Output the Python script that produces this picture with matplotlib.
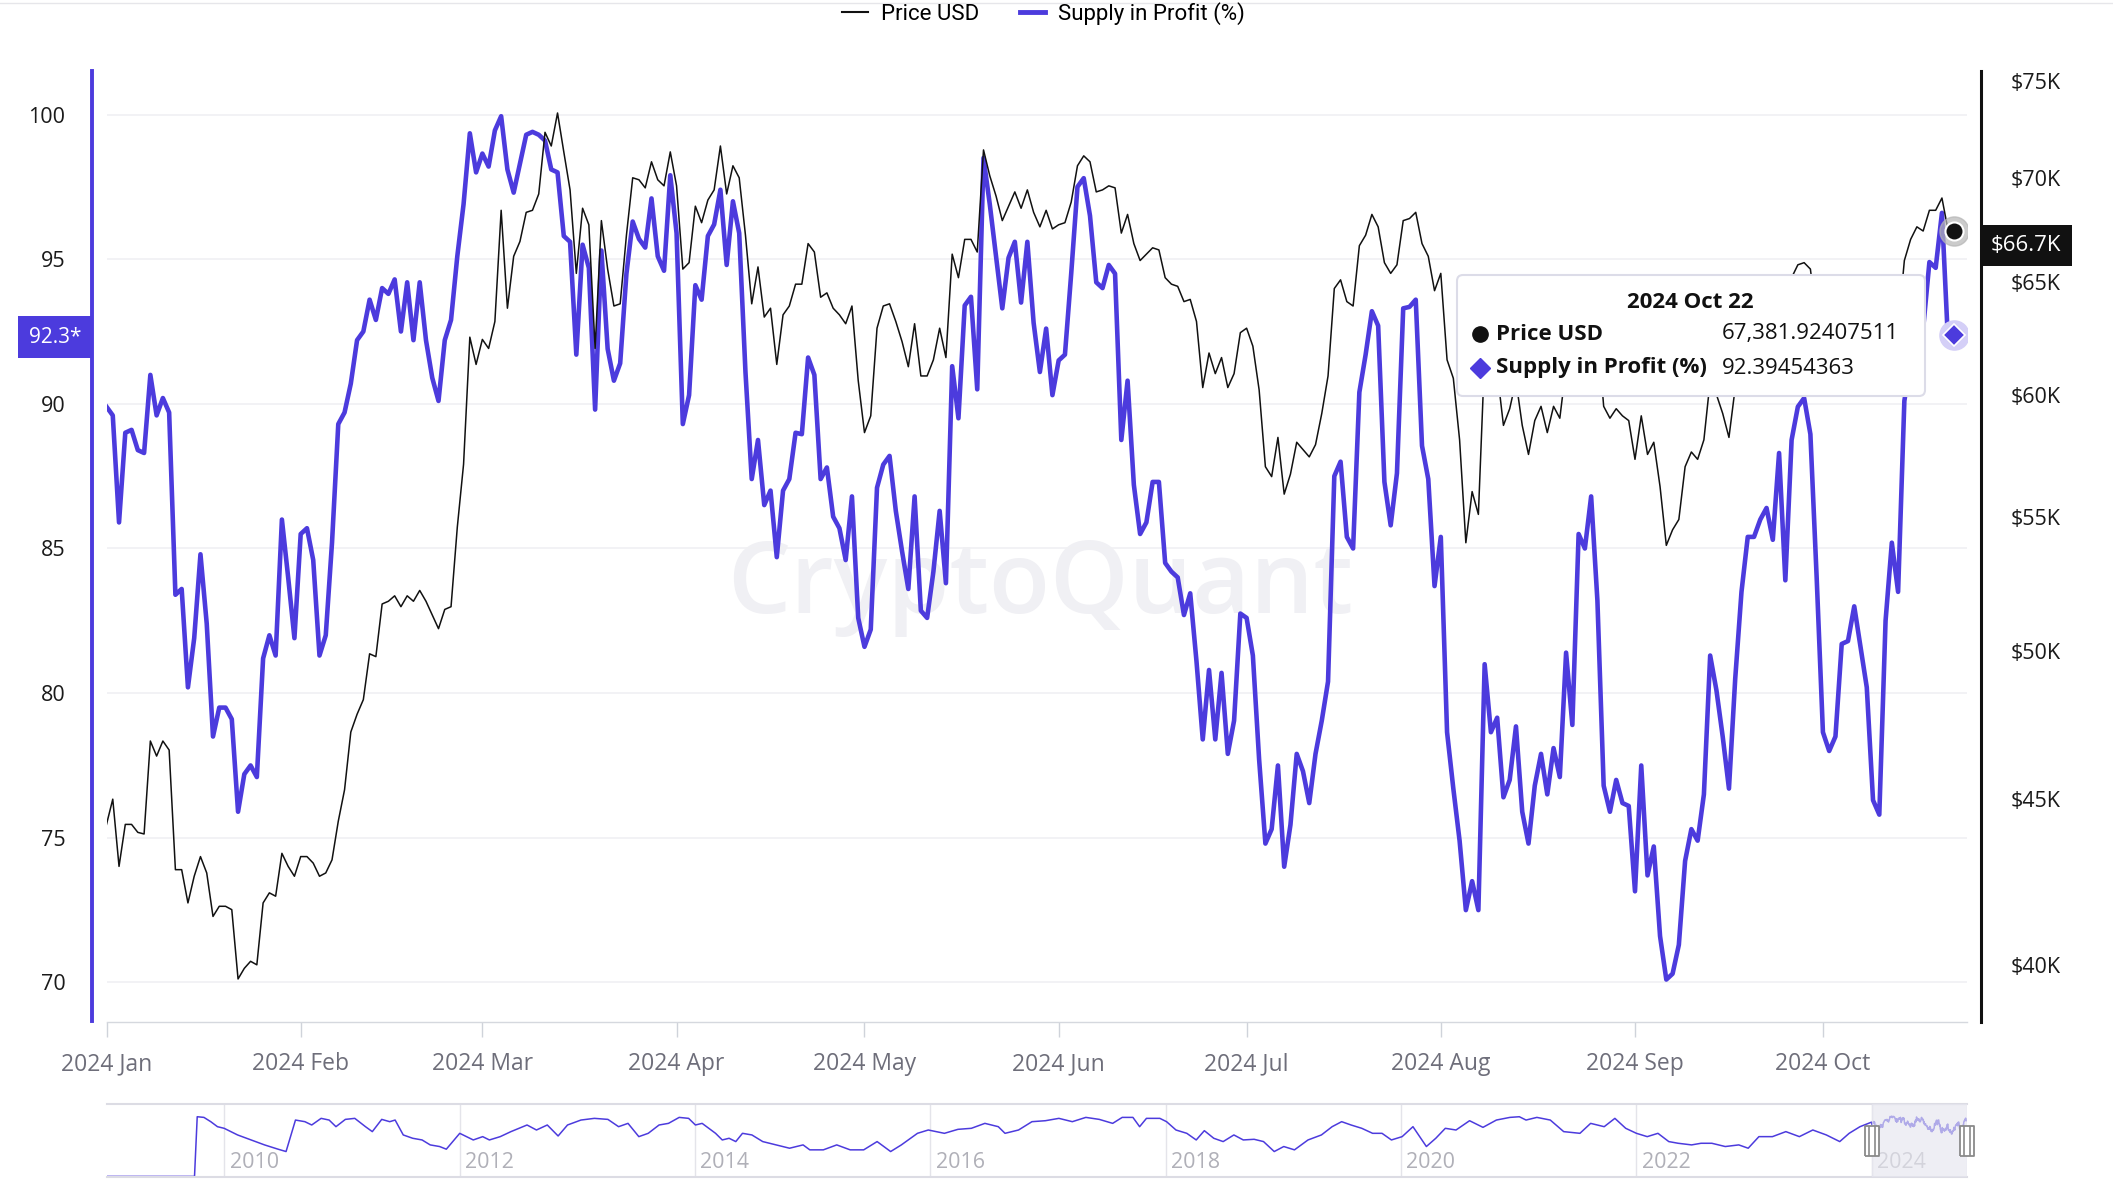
import numpy as np
import pandas as pd
import matplotlib
matplotlib.use("Agg")
import matplotlib.pyplot as plt
import matplotlib.dates as mdates
import matplotlib.ticker as mticker
import matplotlib.transforms as mtransforms
from matplotlib.lines import Line2D
from matplotlib.patches import FancyBboxPatch
from matplotlib.path import Path

plt.rcParams['font.family'] = ['Open Sans', 'DejaVu Sans']

PURPLE = "#4c3bdd"
BLACK = "#111111"

# BTC price in thousand USD, daily from 2024-01-01 to 2024-10-22
price_k = [
    44.2, 45.0, 42.9, 44.2, 44.2, 43.95, 43.9, 46.9, 46.4, 46.9, 46.6, 42.8, 42.8, 41.8, 42.6, 43.2,
    42.7, 41.4, 41.7, 41.7, 41.6, 39.6, 39.9, 40.1, 40.0, 41.8, 42.1, 42.0, 43.3, 42.9, 42.6,  # Jan
    43.2, 43.2, 43.0, 42.6, 42.7, 43.1, 44.3, 45.3, 47.2, 47.8, 48.3, 49.9, 49.8, 51.7, 51.8,
    52.0, 51.6, 52.0, 51.8, 52.2, 51.8, 51.3, 50.8, 51.5, 51.6, 54.6, 57.1, 62.5, 61.3,  # Feb
    62.4, 62.0, 63.2, 68.4, 63.8, 66.2, 66.9, 68.3, 68.4, 69.2, 72.3, 71.6, 73.3, 71.3, 69.4, 65.4,
    68.5, 67.7, 62.0, 67.9, 65.6, 63.9, 64.0, 67.2, 70.0, 69.9, 69.5, 70.8, 69.9, 69.6, 71.3,  # Mar
    69.6, 65.6, 65.9, 68.6, 67.8, 68.9, 69.4, 71.6, 69.2, 70.6, 70.0, 67.2, 64.0, 65.7, 63.4,
    63.8, 61.3, 63.5, 63.9, 64.9, 64.9, 66.8, 66.4, 64.3, 64.5, 63.8, 63.5, 63.1, 63.9, 60.6,  # Apr
    58.4, 59.1, 62.9, 63.9, 64.0, 63.2, 62.3, 61.2, 63.1, 60.8, 60.8, 61.5, 62.9, 61.6, 66.3, 65.2,
    67.0, 67.0, 66.4, 71.4, 70.1, 69.1, 67.9, 68.6, 69.3, 68.5, 69.4, 68.3, 67.6, 68.4, 67.5,  # May
    67.7, 67.8, 68.8, 70.6, 71.1, 70.8, 69.3, 69.4, 69.6, 69.5, 67.3, 68.2, 66.8, 66.0, 66.3,
    66.6, 66.5, 65.2, 64.9, 64.8, 64.1, 64.2, 63.2, 60.3, 61.8, 60.9, 61.6, 60.3, 60.9, 62.7,  # Jun
    62.9, 62.1, 60.2, 57.0, 56.6, 58.2, 55.9, 56.7, 58.0, 57.7, 57.4, 57.9, 59.2, 60.8, 64.7, 65.1,
    64.1, 63.9, 66.7, 67.2, 68.2, 67.6, 65.9, 65.4, 65.8, 67.9, 68.0, 68.3, 66.8, 66.2, 64.6,  # Jul
    65.4, 61.5, 60.7, 58.1, 54.0, 56.0, 55.1, 61.7, 60.9, 61.0, 58.7, 59.4, 60.6, 58.7, 57.5, 58.9,
    59.5, 58.4, 59.5, 59.0, 61.2, 60.4, 64.1, 64.2, 64.2, 62.9, 59.5, 59.0, 59.4, 59.1, 58.9,  # Aug
    57.3, 59.1, 57.5, 58.0, 56.2, 53.9, 54.5, 54.9, 57.0, 57.6, 57.3, 58.1, 60.6, 60.0, 59.2,
    58.2, 60.3, 61.8, 62.9, 63.2, 63.3, 63.6, 63.3, 64.3, 63.1, 65.2, 65.8, 65.9, 65.6, 63.3,  # Sep
    60.8, 60.6, 60.8, 62.1, 62.1, 62.8, 62.2, 62.1, 60.6, 60.3, 62.5, 63.2, 62.9, 66.0, 67.0,
    67.6, 67.4, 68.4, 68.4, 69.0, 67.4, 67.38192407511,  # Oct
]

# Supply in Profit (%), same days
supply_pct = [
    89.9, 89.6, 85.9, 89.0, 89.1, 88.4, 88.3, 91.0, 89.6, 90.2, 89.7, 83.4, 83.6, 80.2, 81.9, 84.8,
    82.4, 78.5, 79.5, 79.5, 79.1, 75.9, 77.2, 77.5, 77.1, 81.2, 82.0, 81.3, 86.0, 84.0, 81.9,  # Jan
    85.5, 85.7, 84.6, 81.3, 82.0, 85.2, 89.3, 89.7, 90.7, 92.2, 92.5, 93.6, 92.9, 94.0, 93.8,
    94.3, 92.5, 94.2, 92.2, 94.2, 92.2, 90.9, 90.1, 92.2, 92.9, 95.1, 96.9, 99.35, 98.0,  # Feb
    98.65, 98.2, 99.45, 99.94, 98.1, 97.3, 98.3, 99.3, 99.4, 99.3, 99.1, 98.1, 98.0, 95.8, 95.6, 91.7,
    95.5, 94.7, 89.8, 95.3, 91.9, 90.8, 91.4, 94.5, 96.3, 95.7, 95.4, 97.1, 95.1, 94.6, 97.9,  # Mar
    95.9, 89.3, 90.3, 94.1, 93.6, 95.8, 96.2, 97.4, 94.8, 97.0, 95.9, 91.1, 87.4, 88.75, 86.5,
    87.0, 84.7, 87.0, 87.4, 89.0, 88.95, 91.6, 91.0, 87.4, 87.8, 86.1, 85.7, 84.6, 86.8, 82.6,  # Apr
    81.6, 82.2, 87.1, 87.9, 88.2, 86.3, 84.9, 83.6, 86.8, 82.85, 82.6, 84.2, 86.3, 83.8, 91.3, 89.5,
    93.4, 93.7, 90.5, 98.5, 96.9, 95.1, 93.3, 95.05, 95.6, 93.5, 95.6, 92.8, 91.1, 92.6, 90.3,  # May
    91.5, 91.7, 94.5, 97.5, 97.8, 96.5, 94.2, 94.0, 94.8, 94.5, 88.75, 90.8, 87.2, 85.5, 85.9,
    87.3, 87.3, 84.5, 84.2, 84.0, 82.7, 83.45, 81.1, 78.4, 80.8, 78.4, 80.7, 77.9, 79.05, 82.75,  # Jun
    82.6, 81.3, 77.7, 74.8, 75.3, 77.5, 74.0, 75.45, 77.9, 77.3, 76.2, 77.9, 79.05, 80.4, 87.5, 88.0,
    85.4, 85.0, 90.4, 91.7, 93.2, 92.7, 87.3, 85.8, 87.6, 93.3, 93.35, 93.6, 88.55, 87.4, 83.7,  # Jul
    85.4, 78.65, 76.7, 74.9, 72.5, 73.5, 72.5, 81.0, 78.65, 79.15, 76.4, 77.0, 78.85, 75.9, 74.8, 76.8,
    77.9, 76.5, 78.1, 77.1, 81.4, 78.9, 85.5, 85.0, 86.8, 83.2, 76.8, 75.9, 77.0, 76.2, 76.1,  # Aug
    73.15, 77.5, 73.7, 74.7, 71.6, 70.1, 70.3, 71.3, 74.2, 75.3, 74.9, 76.5, 81.3, 80.1, 78.5,
    76.7, 80.5, 83.5, 85.4, 85.4, 86.0, 86.4, 85.3, 88.3, 83.9, 88.75, 89.9, 90.2, 88.95, 84.0,  # Sep
    78.65, 78.0, 78.5, 81.7, 81.8, 83.0, 81.6, 80.2, 76.3, 75.8, 82.5, 85.2, 83.5, 90.1, 91.5,
    92.8, 92.6, 94.9, 94.7, 96.6, 92.0, 92.39454363,  # Oct
]

# navigator: full history of Supply in Profit (%), read coarsely (decimal year, value)
nav_year = [2009.0, 2009.748, 2009.771, 2009.828, 2009.886, 2009.943, 2010.0, 2010.114, 2010.229,
            2010.343, 2010.458, 2010.526, 2010.606, 2010.686, 2010.744, 2010.824, 2010.892, 2010.95,
            2011.03, 2011.11, 2011.201, 2011.259, 2011.339, 2011.407, 2011.453, 2011.522, 2011.602,
            2011.682, 2011.751, 2011.831, 2011.888, 2012.002, 2012.117, 2012.197, 2012.254, 2012.346,
            2012.437, 2012.574, 2012.654, 2012.746, 2012.838, 2012.918, 2013.032, 2013.146, 2013.261,
            2013.352, 2013.432, 2013.524, 2013.604, 2013.696, 2013.776, 2013.867, 2013.947, 2014.005,
            2014.062, 2014.176, 2014.233, 2014.291, 2014.348, 2014.405, 2014.485, 2014.577, 2014.691,
            2014.805, 2014.92, 2014.977, 2015.092, 2015.206, 2015.32, 2015.435, 2015.549, 2015.664,
            2015.755, 2015.892, 2015.984, 2016.121, 2016.236, 2016.35, 2016.465, 2016.579, 2016.636,
            2016.751, 2016.865, 2016.979, 2017.094, 2017.208, 2017.323, 2017.437, 2017.551, 2017.632,
            2017.723, 2017.78, 2017.838, 2017.952, 2018.009, 2018.089, 2018.181, 2018.261, 2018.33,
            2018.41, 2018.49, 2018.581, 2018.661, 2018.753, 2018.833, 2018.924, 2019.005, 2019.096,
            2019.211, 2019.325, 2019.416, 2019.497, 2019.577, 2019.668, 2019.76, 2019.84, 2019.92,
            2020.011, 2020.103, 2020.217, 2020.297, 2020.378, 2020.469, 2020.584, 2020.698, 2020.812,
            2020.927, 2021.007, 2021.064, 2021.156, 2021.27, 2021.384, 2021.522, 2021.613, 2021.728,
            2021.819, 2021.911, 2022.002, 2022.094, 2022.185, 2022.277, 2022.357, 2022.471, 2022.551,
            2022.643, 2022.757, 2022.872, 2022.952, 2023.043, 2023.158, 2023.272, 2023.387, 2023.501,
            2023.616, 2023.73, 2023.81, 2023.902]
nav_value = [0, 0, 98.9, 97.8, 90.7, 82.4, 79.7, 68.7, 60.4,
             52.2, 45.1, 41.2, 93.4, 90.7, 85.2, 96.2, 93.4, 82.4,
             94.5, 96.2, 82.4, 74.2, 94.5, 90.7, 93.4, 68.7, 63.2,
             60.4, 52.2, 49.5, 45.1, 71.4, 60.4, 65.9, 60.4, 65.9,
             74.2, 85.2, 76.9, 85.2, 67.0, 85.2, 93.4, 96.2, 94.5,
             82.4, 87.9, 65.9, 71.4, 85.2, 87.9, 97.8, 96.2, 85.2,
             87.9, 71.4, 60.4, 63.2, 57.7, 71.4, 68.7, 57.7, 52.2,
             46.7, 52.2, 44.0, 44.0, 52.2, 44.0, 44.0, 57.7, 41.2,
             52.2, 71.4, 76.9, 71.4, 78.0, 79.7, 87.9, 82.4, 71.4,
             76.9, 90.7, 92.3, 96.2, 90.7, 97.8, 94.5, 87.9, 97.8,
             97.8, 82.4, 96.2, 96.2, 90.7, 76.9, 71.4, 60.4, 75.8,
             63.2, 57.7, 68.7, 60.4, 61.5, 57.7, 41.2, 49.5, 44.0,
             60.4, 68.7, 82.4, 90.7, 85.2, 79.7, 71.4, 71.4, 60.4,
             65.9, 82.4, 49.5, 63.2, 79.7, 76.9, 92.3, 81.3, 93.4,
             97.8, 98.9, 93.4, 97.8, 93.4, 74.2, 71.4, 87.9, 82.4,
             96.2, 79.7, 71.4, 65.9, 71.4, 57.7, 54.9, 52.2, 54.9,
             54.9, 49.5, 52.2, 46.7, 65.9, 65.9, 74.2, 65.9, 76.9,
             68.7, 57.7, 71.4, 82.4]

left_badge = "92.3*"
right_badge_value = 66700
right_ticks = [40000, 45000, 50000, 55000, 60000, 65000, 70000, 75000]

assert len(price_k) == len(supply_pct)
dates = pd.date_range("2024-01-01", periods=len(price_k), freq="D")
price = np.array(price_k) * 1000
supply = np.array(supply_pct)

W, H = 2113, 1200
fig = plt.figure(figsize=(W / 100, H / 100), dpi=100)

# main axes (pixel box of the plot area)
x0, x1 = 106.5, 1967
y0, y1 = 71.4, 1021.5
ax = fig.add_axes([x0 / W, 1 - y1 / H, (x1 - x0) / W, (y1 - y0) / H])
ax2 = ax.twinx()

ax.text(0.5017, 0.43, "CryptoQuant", transform=ax.transAxes, ha="center", va="baseline",
        fontsize=72, fontweight="semibold", color="#f0f0f4", zorder=0.5)

ax.plot(dates, supply, color=PURPLE, lw=3.3, solid_joinstyle="round", zorder=3)
ax2.plot(dates, price, color=BLACK, lw=1.1, zorder=3)

ax.set_xlim(dates[0], dates[0] + pd.Timedelta(days=297))
ax.set_ylim(68.65, 101.49)
ax.set_yticks(np.arange(70, 101, 5))
ax.grid(axis="y", color="#f0f0f3", lw=1.2)
ax.set_axisbelow(True)

ax2.set_yscale("log")
ax2.set_ylim(38420, 75500)
ax2.yaxis.set_major_locator(mticker.FixedLocator(right_ticks))
ax2.yaxis.set_minor_locator(mticker.NullLocator())
ax2.yaxis.set_major_formatter(mticker.FuncFormatter(lambda v, p: f"${v / 1000:.0f}K"))

for s in ["top", "right"]:
    ax.spines[s].set_visible(False)
ax.spines["left"].set_position(("outward", 10.7))
ax.spines["left"].set_color(PURPLE)
ax.spines["left"].set_linewidth(2.8)
ax.spines["bottom"].set_color("#d5d8de")
ax.spines["bottom"].set_linewidth(1)
for s in ["top", "left", "bottom"]:
    ax2.spines[s].set_visible(False)
ax2.spines["right"].set_position(("outward", 10))
ax2.spines["right"].set_color(BLACK)
ax2.spines["right"].set_linewidth(2.2)

ax.xaxis.set_major_locator(mdates.MonthLocator())
ax.xaxis.set_major_formatter(mdates.DateFormatter("%Y %b"))
ax.tick_params(axis="x", length=11, color="#cfd3da", width=1, pad=11,
               labelsize=16.5, labelcolor="#6e6e7a")
ax.tick_params(axis="y", length=0, pad=19, labelsize=15.5, labelcolor="#1a1a1a")
ax2.tick_params(axis="y", length=0, pad=21.6, labelsize=15.5, labelcolor="#1a1a1a")

# value badges on the axes
trans_l = mtransforms.blended_transform_factory(ax.transAxes, ax.transData)
ax.text(-0.0135, 92.3, left_badge, transform=trans_l, ha="right", va="center", color="white",
        fontsize=15, bbox=dict(boxstyle="square,pad=0.5", fc=PURPLE, ec="none"),
        clip_on=False, zorder=6)
trans_r = mtransforms.blended_transform_factory(ax2.transAxes, ax2.transData)
ax2.text(1.0129, right_badge_value, f"${right_badge_value / 1000:.1f}K", transform=trans_r,
         ha="left", va="center", color="white", fontsize=16,
         bbox=dict(boxstyle="square,pad=0.45", fc=BLACK, ec="none"), clip_on=False, zorder=6)

# hover markers on the last point
ax2.plot(dates[-1], price[-1], "o", ms=21, color="#b5b5b5", alpha=0.7, zorder=6)
ax2.plot(dates[-1], price[-1], "o", ms=13, mfc=BLACK, mec="white", mew=1.5, zorder=7)
ax2.plot(dates[-1], supply[-1], "o", ms=21, color="#d4cff7", zorder=6, transform=ax.transData)
ax2.plot(dates[-1], supply[-1], "D", ms=11, mfc=PURPLE, mec="white", mew=1.2, zorder=7,
         transform=ax.transData)
ax2.set_ylim(38420, 75500)

# legend on top
fig.legend(handles=[Line2D([], [], color=BLACK, lw=1.5), Line2D([], [], color=PURPLE, lw=3.5)],
           labels=["Price USD", "Supply in Profit (%)"], loc="center", bbox_to_anchor=(0.494, 0.9885),
           ncol=2, frameon=False, handlelength=1.15, handletextpad=0.6, columnspacing=1.8,
           prop={"family": ["Roboto", "DejaVu Sans"], "size": 16})
fig.add_artist(Line2D([0, 1], [0.9975, 0.9975], transform=fig.transFigure, color="#e6e6ea", lw=1))

# tooltip
tx0, tx1, ty0, ty1 = 1455, 1927, 273, 398
tt = fig.add_axes([tx0 / W, 1 - ty1 / H, (tx1 - tx0) / W, (ty1 - ty0) / H])
tt.set_xlim(0, tx1 - tx0)
tt.set_ylim(0, ty1 - ty0)
tt.set_axis_off()
tt.add_patch(FancyBboxPatch((2, 2), tx1 - tx0 - 4, ty1 - ty0 - 4, boxstyle="round,pad=0,rounding_size=6",
                            fc="white", ec="#dcdce8", lw=1.5))
tfont = ["Open Sans", "DejaVu Sans"]
tt.text(235, 95, dates[-1].strftime("%Y %b %d"), ha="center", va="center", fontsize=16,
        fontweight="bold", family=tfont, color="#111")
tt.plot(25, 64, "o", ms=11, color=BLACK)
tt.text(41, 64, "Price USD", ha="left", va="center", fontsize=16, fontweight="bold", family=tfont, color="#111")
tt.text(267, 64, f"{price[-1]:,.8f}", ha="left", va="center", fontsize=16, family=tfont, color="#111")
tt.plot(25, 30, "D", ms=10, color=PURPLE)
tt.text(41, 30, "Supply in Profit (%)", ha="left", va="center", fontsize=16, fontweight="bold",
        family=tfont, color="#111")
tt.text(267, 30, f"{supply[-1]:.8f}", ha="left", va="center", fontsize=16, family=tfont, color="#111")

# navigator
nav = fig.add_axes([x0 / W, 1 - 1177 / H, (x1 - x0) / W, 73 / H])
year_2024 = 2024 + np.arange(len(supply)) / 366
nx = np.concatenate([nav_year, year_2024])
ny = np.concatenate([nav_value, supply])
nav_end = 2024 + 297 / 366
nav.plot(nx, ny, color=PURPLE, lw=1.1, zorder=2)
nav.set_xlim(2009.0, nav_end)
nav.set_ylim(-1, 120)
nav.set_xticks([])
nav.set_yticks([])
for s in ["left", "right"]:
    nav.spines[s].set_visible(False)
for s in ["top", "bottom"]:
    nav.spines[s].set_color("#dcdce4")
    nav.spines[s].set_linewidth(1.5)
trans_n = mtransforms.blended_transform_factory(nav.transData, nav.transAxes)
for yr in range(2010, 2025, 2):
    nav.axvline(yr, color="#e4e4ea", lw=1, zorder=1)
    nav.text(yr + 0.046, 0.2, str(yr), transform=trans_n, ha="left", va="center",
             fontsize=15.5, color="#b0b0b8", zorder=1)
nav.axvspan(2024.0, nav_end, color="#e6e6ef", alpha=0.65, zorder=3)
handle = Path([(-0.23, -0.5), (0.23, -0.5), (0.23, 0.5), (-0.23, 0.5), (-0.23, -0.5)])
grip = Path([(-0.06, -0.3), (-0.06, 0.3), (0.06, -0.3), (0.06, 0.3)],
            [Path.MOVETO, Path.LINETO, Path.MOVETO, Path.LINETO])
nav.plot([2024.0, nav_end], [0.5, 0.5], ls="none", marker=handle, ms=22, mfc="white",
         mec="#8a8a8a", mew=1.3, zorder=5, clip_on=False, transform=trans_n)
nav.plot([2024.0, nav_end], [0.5, 0.5], ls="none", marker=grip, ms=22, mec="#8a8a8a",
         mew=1.2, zorder=6, clip_on=False, transform=trans_n)

fig.savefig("out.png", dpi=100, facecolor="white")
